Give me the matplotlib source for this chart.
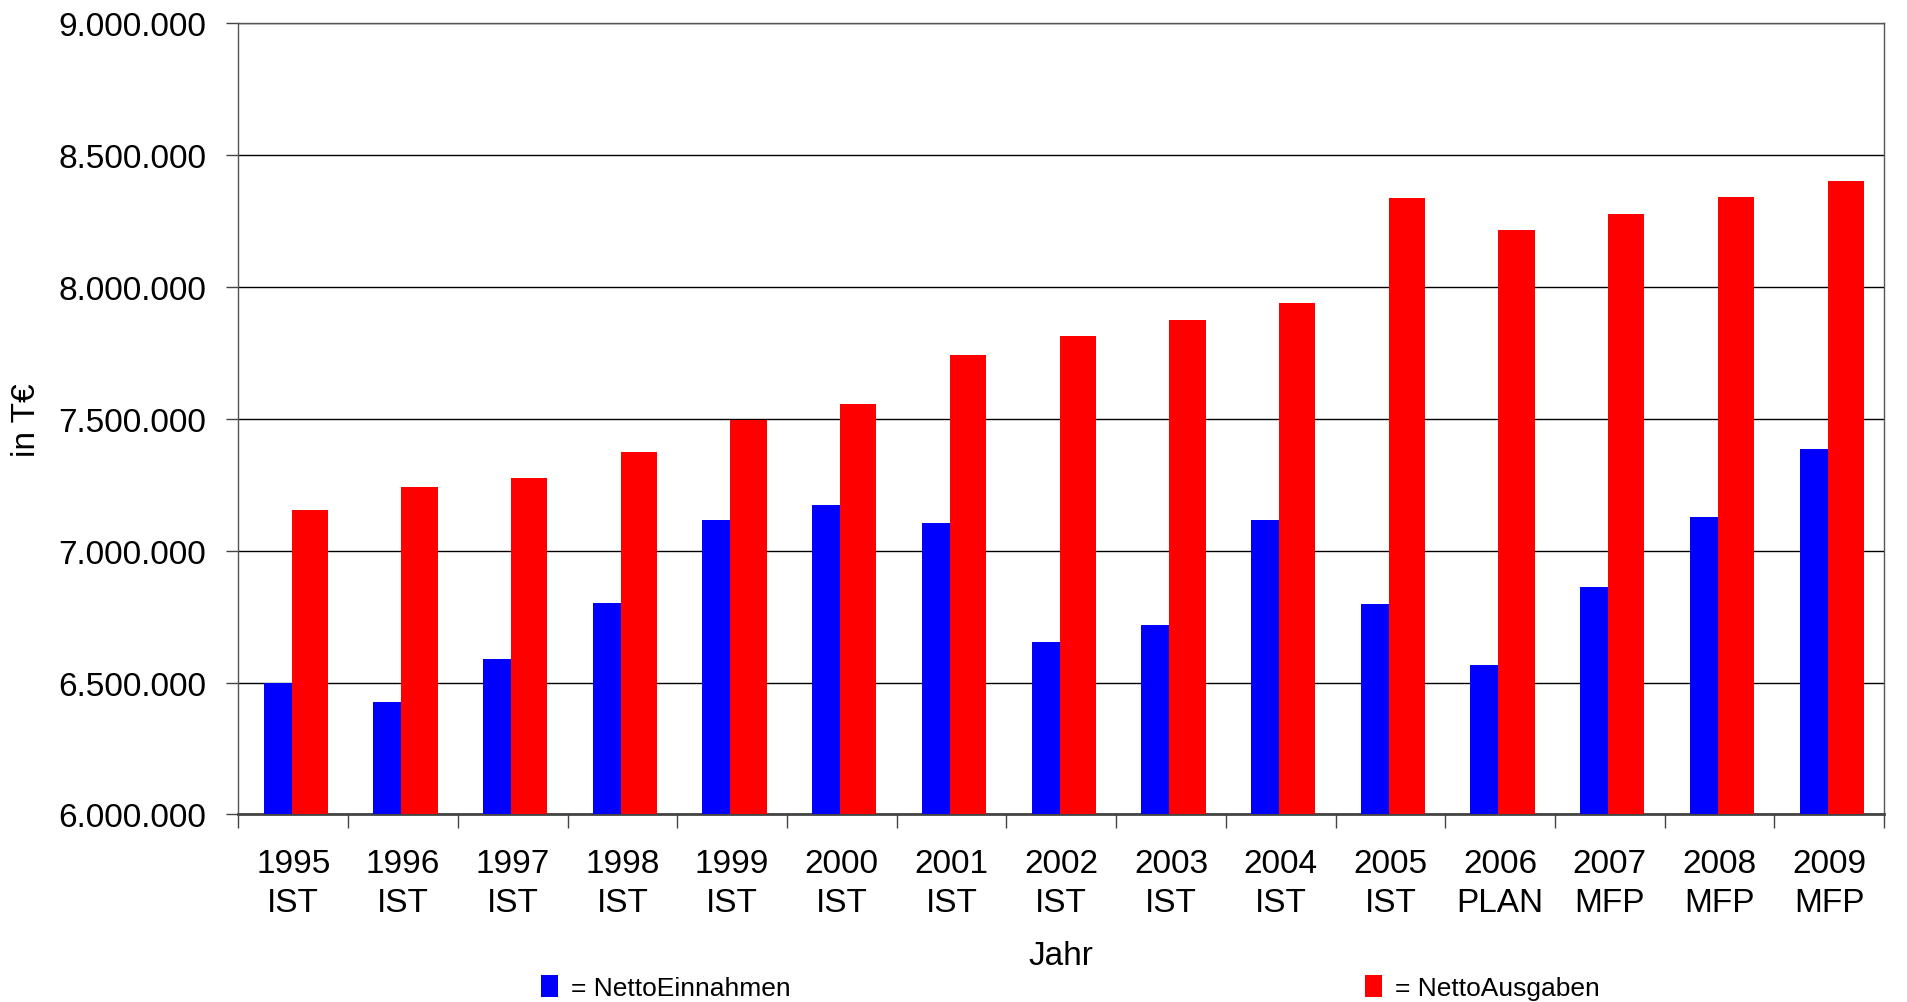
import numpy as np
import matplotlib
matplotlib.use("Agg")
import matplotlib.pyplot as plt
from matplotlib.ticker import FuncFormatter, MultipleLocator

plt.rcParams['font.family'] = ['Liberation Sans', 'DejaVu Sans']

jahre = ['1995', '1996', '1997', '1998', '1999', '2000', '2001', '2002',
         '2003', '2004', '2005', '2006', '2007', '2008', '2009']
art = ['IST', 'IST', 'IST', 'IST', 'IST', 'IST', 'IST', 'IST',
       'IST', 'IST', 'IST', 'PLAN', 'MFP', 'MFP', 'MFP']
einnahmen = [6500000, 6425000, 6591000, 6803000, 7117000, 7172000, 7103000, 6655000,
             6720000, 7117000, 6798000, 6568000, 6863000, 7126000, 7384000]
ausgaben = [7154000, 7241000, 7274000, 7375000, 7495000, 7555000, 7740000, 7814000,
            7874000, 7938000, 8335000, 8215000, 8275000, 8340000, 8400000]

x = np.arange(len(jahre))

fig = plt.figure(figsize=(19.07, 10.03), dpi=100)
ax = fig.add_axes([0.125, 0.187, 0.863, 0.789])

b1 = ax.bar(x - 0.27, einnahmen, width=0.255, align='edge', color='#0000ff', zorder=3)
b2 = ax.bar(x - 0.015, ausgaben, width=0.33, align='edge', color='#ff0000', zorder=3)

ax.set_ylim(6000000, 9000000)
ax.set_xlim(-0.5, len(jahre) - 0.5)
ax.yaxis.set_major_locator(MultipleLocator(500000))
ax.yaxis.set_major_formatter(FuncFormatter(lambda v, p: f"{v:,.0f}".replace(",", ".")))
ax.grid(axis='y', color='#000000', linewidth=1.0, zorder=0)

ax.set_xticks(x)
ax.set_xticklabels([j + '\n' + a for j, a in zip(jahre, art)], linespacing=1.35)
ax.set_xticks(np.arange(-0.5, len(jahre)), minor=True)
ax.tick_params(axis='x', which='major', length=0, pad=24, labelsize=24)
ax.tick_params(axis='x', which='minor', length=10, width=1, color='#444444')
ax.tick_params(axis='y', length=9, width=1, color='#444444', labelsize=24, pad=14)

for s in ['left', 'right', 'top']:
    ax.spines[s].set_color('#555555')
    ax.spines[s].set_linewidth(1)
ax.spines['bottom'].set_color('#444444')
ax.spines['bottom'].set_linewidth(2)

ax.set_ylabel('in T€', fontsize=24, labelpad=12)
ax.set_xlabel('Jahr', fontsize=24, labelpad=16)

leg1 = fig.legend([b1], ['= NettoEinnahmen'], loc='center left', bbox_to_anchor=(0.278, 0.014),
                  frameon=False, fontsize=19, handlelength=0.65, handleheight=0.9,
                  handletextpad=0.5, borderaxespad=0)
leg2 = fig.legend([b2], ['= NettoAusgaben'], loc='center left', bbox_to_anchor=(0.71, 0.014),
                  frameon=False, fontsize=19, handlelength=0.65, handleheight=0.9,
                  handletextpad=0.5, borderaxespad=0)

fig.savefig('out.png', dpi=100)
